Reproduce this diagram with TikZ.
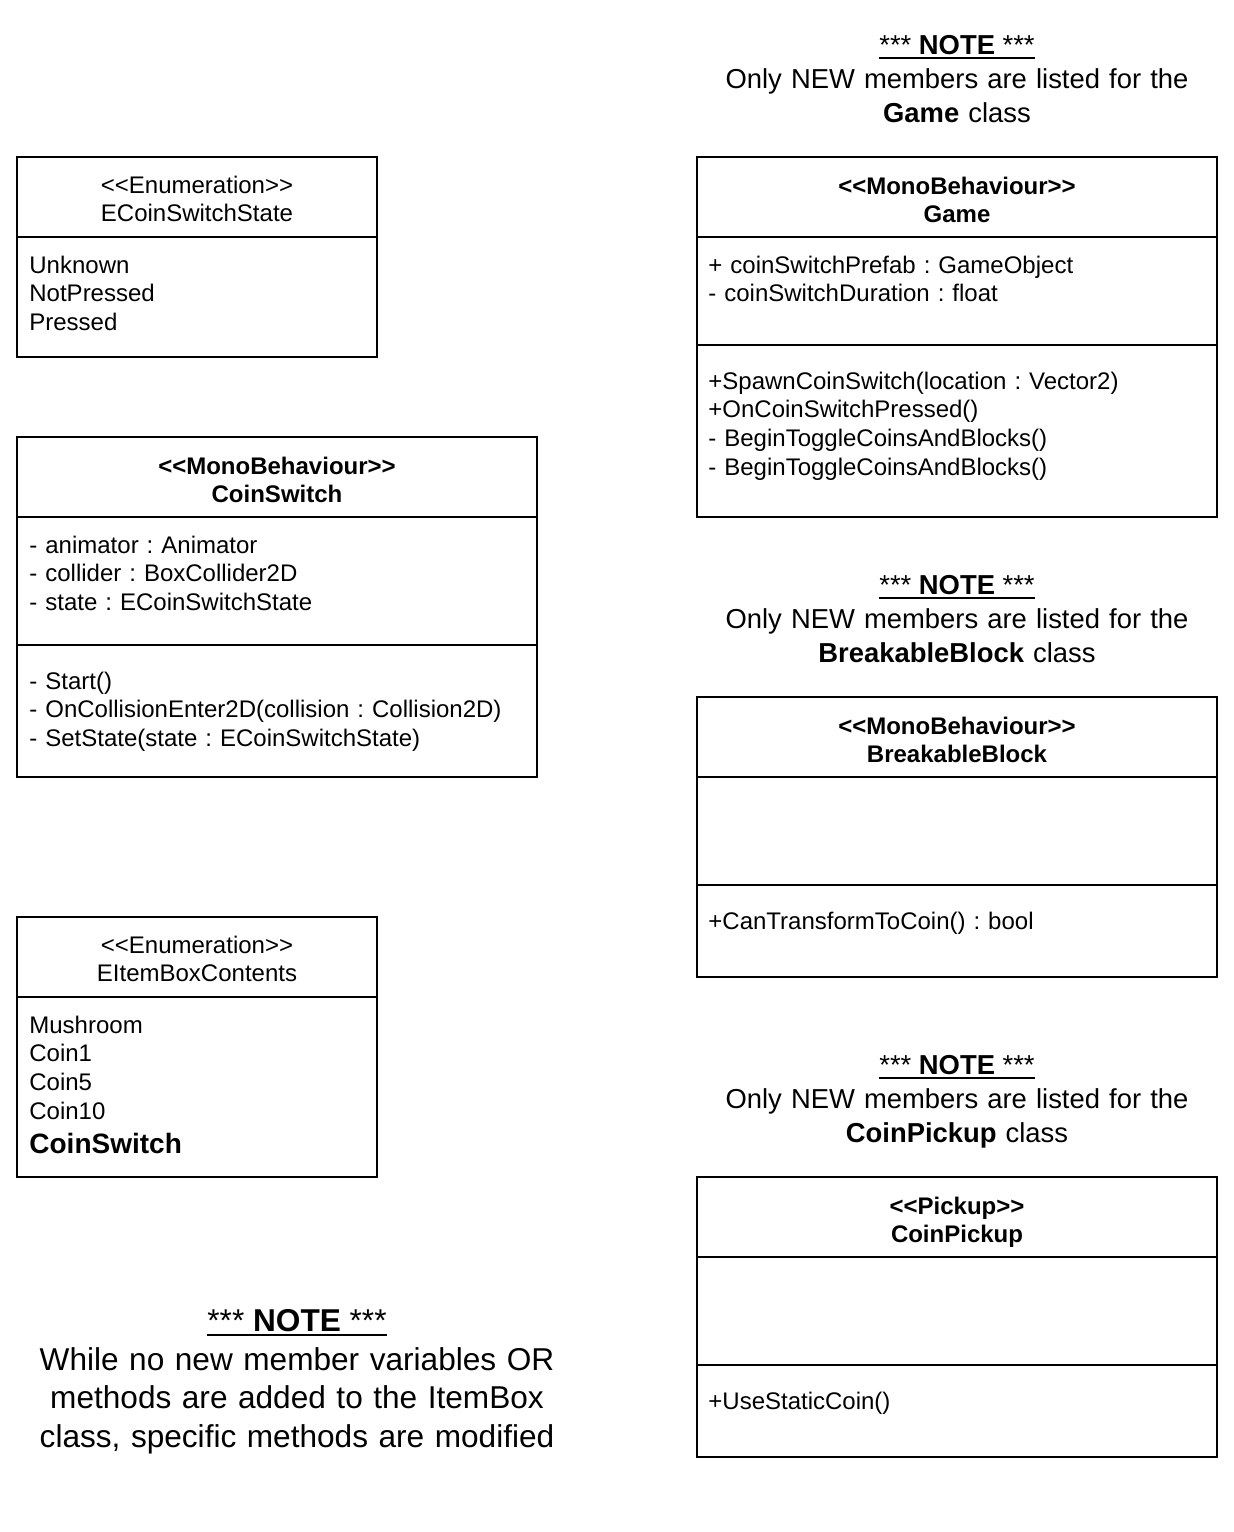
\documentclass[tikz,border=0pt]{standalone}
\usepackage{fontspec}
\setmainfont{Liberation Sans}[Ligatures=TeXOff]
\usetikzlibrary{positioning}
\begin{document}
\frenchspacing
\begin{tikzpicture}[x=0.5pt,y=-0.5pt,
    part/.style={draw,line width=1pt,inner sep=0pt,outer sep=0pt,anchor=north west},
    title/.style={align=center,inner sep=0pt,anchor=base,text width=250pt,font=\fontsize{12}{14.4}\selectfont},
    members/.style={align=left,inner sep=0pt,anchor=base west,text width=250pt,font=\fontsize{12}{14.4}\selectfont},
    notehead/.style={inner sep=0pt,anchor=base,font=\fontsize{13.7}{17}\selectfont},
    notetext/.style={align=center,inner sep=0pt,anchor=base,text width=300pt,font=\fontsize{13.7}{17}\selectfont}]
            \useasboundingbox (0,0) rectangle (1234,1532);
            % ECoinSwitchState
            \node[part,minimum width=180pt,minimum height=40pt] (stateHead) at (17,157) {};
            \node[part,minimum width=180pt,minimum height=60pt] (stateBody) at (stateHead.south west) {};
            \node[title] (stateTitle) at (197,193) {<<Enumeration>>\\ECoinSwitchState};
            \node[members] (stateList) at (29,273) {Unknown\\NotPressed\\Pressed};
            % CoinSwitch
            \node[part,minimum width=260pt,minimum height=40pt] (switchHead) at (17,437) {};
            \node[part,minimum width=260pt,minimum height=64pt] (switchAttr) at (switchHead.south west) {};
            \node[part,minimum width=260pt,minimum height=66pt] (switchOps) at (switchAttr.south west) {};
            \node[title,font=\fontsize{12}{14.4}\selectfont\bfseries] (switchTitle) at (277,474) {<<MonoBehaviour>>\\CoinSwitch};
            \node[members] (switchAttrList) at (29,553) {- animator : Animator\\- collider : BoxCollider2D\\- state : ECoinSwitchState};
            \node[members] (switchOpsList) at (29,689) {- Start()\\- OnCollisionEnter2D(collision : Collision2D)\\- SetState(state : ECoinSwitchState)};
            % EItemBoxContents
            \node[part,minimum width=180pt,minimum height=40pt] (boxHead) at (17,917) {};
            \node[part,minimum width=180pt,minimum height=90pt] (boxBody) at (boxHead.south west) {};
            \node[title] (boxTitle) at (197,953) {<<Enumeration>>\\EItemBoxContents};
            \node[members] (boxList) at (29,1033) {Mushroom\\Coin1\\Coin5\\Coin10};
            \node[members,font=\fontsize{14}{17}\selectfont\bfseries] (boxNew) at (29,1153) {CoinSwitch};
            % Game
            \node[notehead] (gameHead) at (957,54) {*** \textbf{NOTE} ***};
            \draw[line width=1pt] ([yshift=-2pt]gameHead.base west) -- ([yshift=-2pt]gameHead.base east);
            \node[notetext] (gameNote) at (957,88) {Only NEW members are listed for the\\\textbf{Game} class};
            \node[part,minimum width=260pt,minimum height=40pt] (gameTop) at (697,157) {};
            \node[part,minimum width=260pt,minimum height=54pt] (gameAttr) at (gameTop.south west) {};
            \node[part,minimum width=260pt,minimum height=86pt] (gameOps) at (gameAttr.south west) {};
            \node[title,font=\fontsize{12}{14.4}\selectfont\bfseries] (gameTitle) at (957,194) {<<MonoBehaviour>>\\Game};
            \node[members] (gameAttrList) at (708,273) {+ coinSwitchPrefab : GameObject\\- coinSwitchDuration : float};
            \node[members] (gameOpsList) at (708,389) {+SpawnCoinSwitch(location : Vector2)\\+OnCoinSwitchPressed()\\- BeginToggleCoinsAndBlocks()\\- BeginToggleCoinsAndBlocks()};
            % BreakableBlock
            \node[notehead] (blockHead) at (957,594) {*** \textbf{NOTE} ***};
            \draw[line width=1pt] ([yshift=-2pt]blockHead.base west) -- ([yshift=-2pt]blockHead.base east);
            \node[notetext] (blockNote) at (957,628) {Only NEW members are listed for the\\\textbf{BreakableBlock} class};
            \node[part,minimum width=260pt,minimum height=40pt] (blockTop) at (697,697) {};
            \node[part,minimum width=260pt,minimum height=54pt] (blockAttr) at (blockTop.south west) {};
            \node[part,minimum width=260pt,minimum height=46pt] (blockOps) at (blockAttr.south west) {};
            \node[title,font=\fontsize{12}{14.4}\selectfont\bfseries] (blockTitle) at (957,734) {<<MonoBehaviour>>\\BreakableBlock};
            \node[members] (blockOpsList) at (708,929) {+CanTransformToCoin() : bool};
            % CoinPickup
            \node[notehead] (pickupHead) at (957,1074) {*** \textbf{NOTE} ***};
            \draw[line width=1pt] ([yshift=-2pt]pickupHead.base west) -- ([yshift=-2pt]pickupHead.base east);
            \node[notetext] (pickupNote) at (957,1108) {Only NEW members are listed for the\\\textbf{CoinPickup} class};
            \node[part,minimum width=260pt,minimum height=40pt] (pickupTop) at (697,1177) {};
            \node[part,minimum width=260pt,minimum height=54pt] (pickupAttr) at (pickupTop.south west) {};
            \node[part,minimum width=260pt,minimum height=46pt] (pickupOps) at (pickupAttr.south west) {};
            \node[title,font=\fontsize{12}{14.4}\selectfont\bfseries] (pickupTitle) at (957,1214) {<<Pickup>>\\CoinPickup};
            \node[members] (pickupOpsList) at (708,1409) {+UseStaticCoin()};
            % ItemBox
            \node[notehead,font=\fontsize{15.8}{19.25}\selectfont] (itemHead) at (297,1331) {*** \textbf{NOTE} ***};
            \draw[line width=1pt] ([yshift=-2pt]itemHead.base west) -- ([yshift=-2pt]itemHead.base east);
            \node[notetext,font=\fontsize{15.8}{19.25}\selectfont] (itemNote) at (297,1370) {While no new member variables OR\\methods are added to the ItemBox\\class, specific methods are modified};
        \end{tikzpicture}
\end{document}
